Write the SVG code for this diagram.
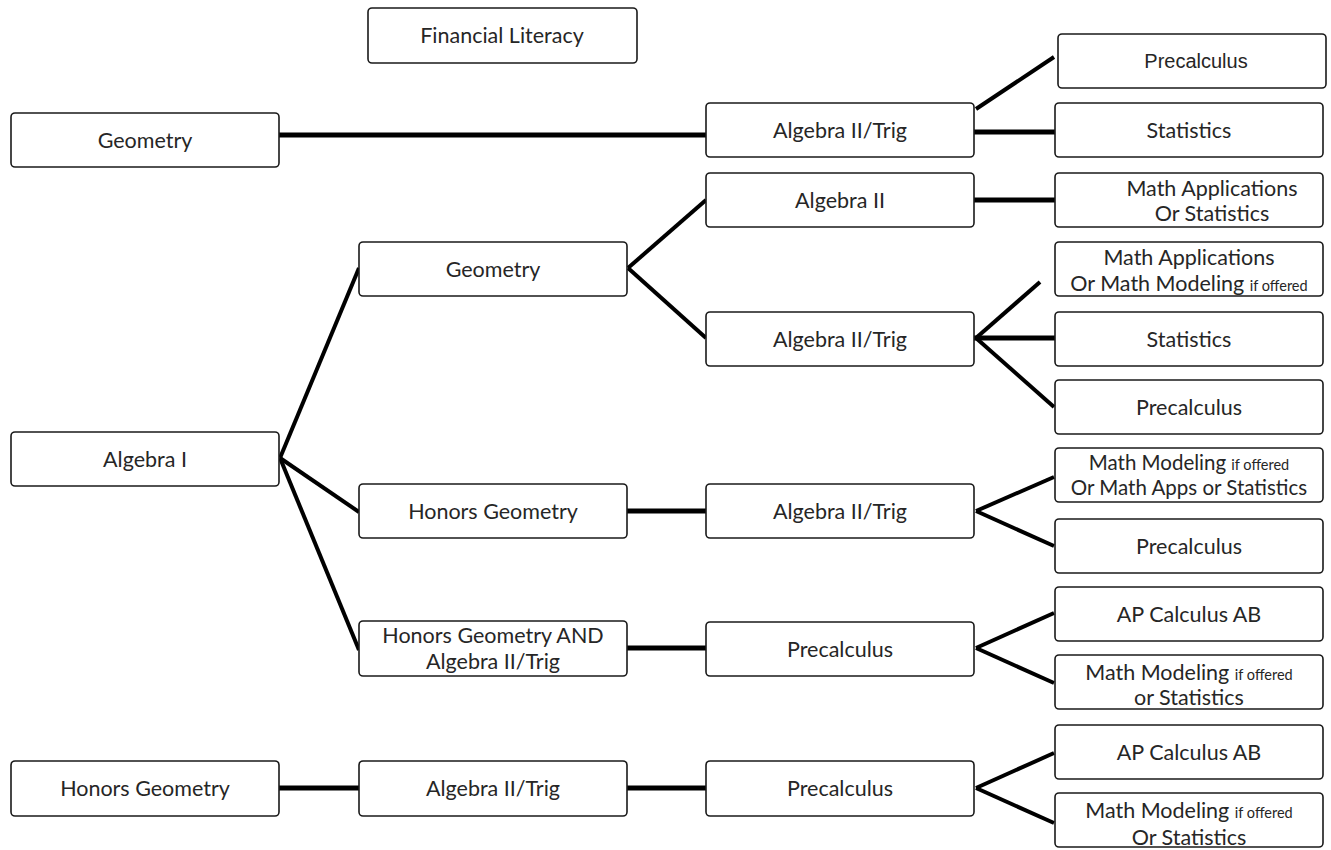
<svg xmlns="http://www.w3.org/2000/svg" width="1331" height="850" viewBox="0 0 1331 850">
<style>
.box{fill:#fff;stroke:#1a1a1a;stroke-width:1.6}
.t{font-family:Lato,"Liberation Sans",sans-serif;font-size:21.5px;fill:#262626;text-anchor:middle}
.a{font-family:"Liberation Sans",Arial,sans-serif;font-size:20px;fill:#262626;text-anchor:middle}
.s{font-size:14.5px}
.c{stroke:#000;stroke-width:4;fill:none;stroke-linecap:butt}
.h{stroke-width:5}
</style>
<rect width="1331" height="850" fill="#fff"/>
<g id="connectors">
<line class="c h" x1="279" y1="135" x2="706" y2="135"/>
<line class="c" x1="976" y1="109" x2="1054" y2="57"/>
<line class="c h" x1="974" y1="132" x2="1055" y2="132"/>
<line class="c" x1="280" y1="458" x2="359" y2="268"/>
<line class="c" x1="280" y1="458" x2="359" y2="512"/>
<line class="c" x1="280" y1="458" x2="359" y2="650"/>
<line class="c" x1="628" y1="268" x2="706" y2="200"/>
<line class="c" x1="628" y1="268" x2="706" y2="338"/>
<line class="c h" x1="974" y1="200" x2="1055" y2="200"/>
<line class="c" x1="976" y1="338" x2="1040" y2="282"/>
<line class="c h" x1="974" y1="338" x2="1055" y2="338"/>
<line class="c" x1="976" y1="338" x2="1054" y2="407"/>
<line class="c h" x1="627" y1="511" x2="706" y2="511"/>
<line class="c" x1="976" y1="511" x2="1054" y2="477"/>
<line class="c" x1="976" y1="511" x2="1054" y2="546"/>
<line class="c h" x1="627" y1="648" x2="706" y2="648"/>
<line class="c" x1="976" y1="648" x2="1054" y2="613"/>
<line class="c" x1="976" y1="648" x2="1054" y2="683"/>
<line class="c h" x1="279" y1="788" x2="359" y2="788"/>
<line class="c h" x1="627" y1="788" x2="706" y2="788"/>
<line class="c" x1="976" y1="788" x2="1054" y2="753"/>
<line class="c" x1="976" y1="788" x2="1054" y2="823"/>
</g>
<g id="financial-literacy"><rect class="box" x="368" y="8" width="269" height="55" rx="4"/><text class="t" x="502" y="43">Financial Literacy</text></g>
<g id="geometry-top"><rect class="box" x="11" y="113" width="268" height="54" rx="4"/><text class="t" x="145" y="147.5">Geometry</text></g>
<g id="alg2trig-top"><rect class="box" x="706" y="103" width="268" height="54" rx="4"/><text class="t" x="840" y="137.5">Algebra II/Trig</text></g>
<g id="precalc-1"><rect class="box" x="1058" y="34" width="268" height="54" rx="4"/><text class="a" x="1196" y="68">Precalculus</text></g>
<g id="stats-1"><rect class="box" x="1055" y="103" width="268" height="54" rx="4"/><text class="t" x="1189" y="137.5">Statistics</text></g>
<g id="alg2"><rect class="box" x="706" y="173" width="268" height="54" rx="4"/><text class="t" x="840" y="207.5">Algebra II</text></g>
<g id="mathapps-stats"><rect class="box" x="1055" y="173" width="268" height="54" rx="4"/><text class="t" x="1212" y="196">Math Applications</text><text class="t" x="1212" y="221">Or Statistics</text></g>
<g id="geometry-mid"><rect class="box" x="359" y="242" width="268" height="54" rx="4"/><text class="t" x="493" y="276.5">Geometry</text></g>
<g id="mathapps-modeling"><rect class="box" x="1055" y="242" width="268" height="54" rx="4"/><text class="t" x="1189" y="265">Math Applications</text><text class="t" x="1189" y="291">Or Math Modeling <tspan class="s">if offered</tspan></text></g>
<g id="alg2trig-mid"><rect class="box" x="706" y="312" width="268" height="54" rx="4"/><text class="t" x="840" y="346.5">Algebra II/Trig</text></g>
<g id="stats-2"><rect class="box" x="1055" y="312" width="268" height="54" rx="4"/><text class="t" x="1189" y="346.5">Statistics</text></g>
<g id="precalc-2"><rect class="box" x="1055" y="380" width="268" height="54" rx="4"/><text class="t" x="1189" y="415">Precalculus</text></g>
<g id="algebra1"><rect class="box" x="11" y="432" width="268" height="54" rx="4"/><text class="t" x="145" y="466.5">Algebra I</text></g>
<g id="modeling-apps-stats"><rect class="box" x="1055" y="448" width="268" height="54" rx="4"/><text class="t" x="1189" y="470" style="font-size:20.5px">Math Modeling <tspan class="s">if offered</tspan></text><text class="t" x="1189" y="495" style="font-size:20.5px">Or Math Apps or Statistics</text></g>
<g id="honors-geometry"><rect class="box" x="359" y="484" width="268" height="54" rx="4"/><text class="t" x="493" y="518.5">Honors Geometry</text></g>
<g id="alg2trig-honors"><rect class="box" x="706" y="484" width="268" height="54" rx="4"/><text class="t" x="840" y="518.5">Algebra II/Trig</text></g>
<g id="precalc-3"><rect class="box" x="1055" y="519" width="268" height="54" rx="4"/><text class="t" x="1189" y="553.5">Precalculus</text></g>
<g id="apcalc-1"><rect class="box" x="1055" y="587" width="268" height="54" rx="4"/><text class="t" x="1189" y="621.5">AP Calculus AB</text></g>
<g id="honors-and"><rect class="box" x="359" y="621" width="268" height="55" rx="4"/><text class="t" x="493" y="643">Honors Geometry AND</text><text class="t" x="493" y="669">Algebra II/Trig</text></g>
<g id="precalc-4"><rect class="box" x="706" y="622" width="268" height="54" rx="4"/><text class="t" x="840" y="656.5">Precalculus</text></g>
<g id="modeling-stats-1"><rect class="box" x="1055" y="655" width="268" height="54" rx="4"/><text class="t" x="1189" y="680">Math Modeling  <tspan class="s">if offered</tspan></text><text class="t" x="1189" y="705">or Statistics</text></g>
<g id="apcalc-2"><rect class="box" x="1055" y="725" width="268" height="54" rx="4"/><text class="t" x="1189" y="759.5">AP Calculus AB</text></g>
<g id="honors-geometry-bottom"><rect class="box" x="11" y="761" width="268" height="55" rx="4"/><text class="t" x="145" y="796">Honors Geometry</text></g>
<g id="alg2trig-bottom"><rect class="box" x="359" y="761" width="268" height="55" rx="4"/><text class="t" x="493" y="796">Algebra II/Trig</text></g>
<g id="precalc-5"><rect class="box" x="706" y="761" width="268" height="55" rx="4"/><text class="t" x="840" y="796">Precalculus</text></g>
<g id="modeling-stats-2"><rect class="box" x="1055" y="793" width="268" height="54" rx="4"/><text class="t" x="1189" y="818">Math Modeling <tspan class="s">if offered</tspan></text><text class="t" x="1189" y="845">Or Statistics</text></g>
</svg>
